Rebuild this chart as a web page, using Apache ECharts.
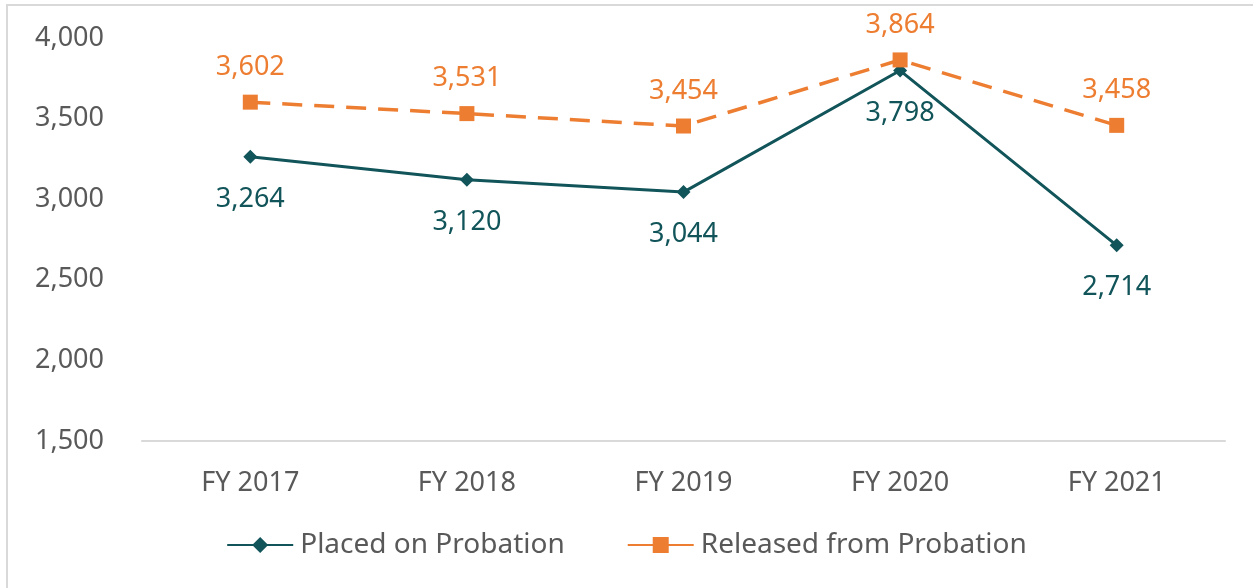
<!DOCTYPE html>
<html lang="en">
<head>
<meta charset="UTF-8">
<title>Probation</title>
<script src="https://cdn.jsdelivr.net/npm/echarts@6/dist/echarts.min.js"></script>
<style>
    html, body { margin: 0; padding: 0; background: #fff; }
    #frame { position: absolute; left: 6px; top: 4px; width: 1247px; height: 584px;
             border-left: 2px solid #d9d9d9; border-top: 2px solid #d9d9d9; }
    #chart { position: absolute; left: 0; top: 0; width: 1253px; height: 588px; }
</style>
</head>
<body>
<div id="frame"></div>
<div id="chart"></div>
<script type="text/javascript">
    // data
    var years = ['FY 2017', 'FY 2018', 'FY 2019', 'FY 2020', 'FY 2021'];
    var placed = [3264, 3120, 3044, 3798, 2714];
    var released = [3602, 3531, 3454, 3864, 3458];

    var teal = '#115459';
    var orange = '#ED7D31';
    var grey = '#595959';
    var font = 'Noto Sans';
    var size = 27;

    function fmt(p) {
        return p.value.toLocaleString('en-US');
    }

    var chart = echarts.init(document.getElementById('chart'));
    chart.setOption({
        animation: false,
        textStyle: { fontFamily: font },
        grid: { left: 142, right: 28, top: 38, bottom: 147 },
        legend: {
            bottom: 24,
            left: 'center',
            itemWidth: 66,
            itemHeight: 20,
            itemGap: 62,
            textStyle: { color: grey, fontSize: 28, fontFamily: font, padding: [0, 0, 0, 2] },
            lineStyle: { type: 'solid' },
            data: ['Placed on Probation', 'Released from Probation']
        },
        xAxis: {
            type: 'category',
            data: years,
            boundaryGap: true,
            axisLine: { lineStyle: { color: '#d9d9d9', width: 2 } },
            axisTick: { show: false },
            axisLabel: { color: grey, fontSize: size, margin: 29 }
        },
        yAxis: {
            type: 'value',
            min: 1500,
            max: 4000,
            interval: 500,
            axisLine: { show: false },
            axisTick: { show: false },
            splitLine: { show: false },
            axisLabel: {
                color: grey, fontSize: size, margin: 38,
                formatter: function (v) { return v.toLocaleString('en-US'); }
            }
        },
        series: [
            {
                name: 'Placed on Probation',
                type: 'line',
                data: placed,
                symbol: 'diamond',
                symbolSize: 14,
                itemStyle: { color: teal },
                lineStyle: { color: teal, width: 3 },
                label: {
                    show: true, position: 'bottom', distance: 22,
                    color: teal, fontSize: size, formatter: fmt
                },
                z: 2
            },
            {
                name: 'Released from Probation',
                type: 'line',
                data: released,
                symbol: 'rect',
                symbolSize: 15,
                itemStyle: { color: orange },
                lineStyle: { color: orange, width: 3.5, type: [20, 12] },
                label: {
                    show: true, position: 'top', distance: 14,
                    color: orange, fontSize: size, formatter: fmt
                },
                z: 3
            }
        ]
    });
</script>
</body>
</html>
